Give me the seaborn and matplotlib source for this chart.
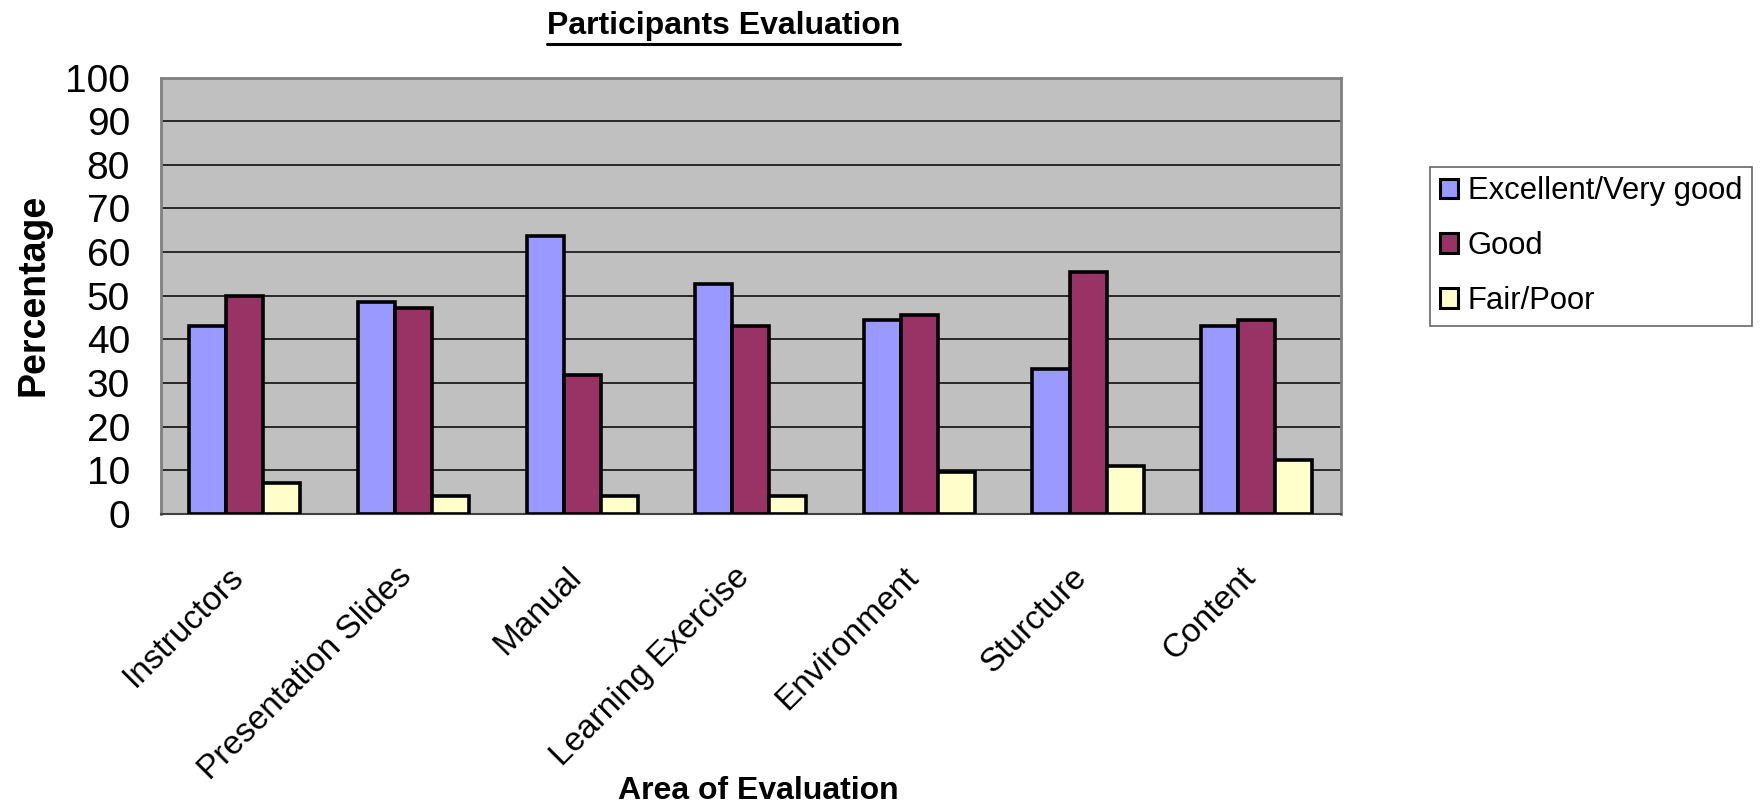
import matplotlib
matplotlib.use("Agg")
import matplotlib.pyplot as plt
from matplotlib.patches import Patch
from matplotlib.lines import Line2D
from matplotlib.transforms import ScaledTranslation
import seaborn as sns
import pandas as pd

categories = ["Instructors", "Presentation Slides", "Manual", "Learning Exercise",
              "Environment", "Sturcture", "Content"]
excellent = [43.0, 48.5, 63.8, 52.8, 44.4, 33.2, 43.0]
good = [50.0, 47.1, 31.9, 43.0, 45.6, 55.4, 44.4]
fair = [7.0, 4.2, 4.2, 4.2, 9.6, 10.9, 12.4]
series_names = ["Excellent/Very good", "Good", "Fair/Poor"]
series_colors = ["#9999FF", "#993366", "#FFFFCC"]
y_ticks = list(range(0, 101, 10))

sns.set_style("white")
plt.rcParams["font.family"] = ["Liberation Sans", "DejaVu Sans"]
plt.rcParams["text.color"] = "black"
plt.rcParams["xtick.color"] = "black"
plt.rcParams["ytick.color"] = "black"

rows = []
for cat, a, b, c in zip(categories, excellent, good, fair):
    rows.append((cat, series_names[0], a))
    rows.append((cat, series_names[1], b))
    rows.append((cat, series_names[2], c))
df = pd.DataFrame(rows, columns=["Area", "Rating", "Percentage"])

fig = plt.figure(figsize=(17.6, 8.1), dpi=100)
ax = fig.add_axes([0.0912, 0.3654, 0.6708, 0.5389])
ax.set_facecolor("#C0C0C0")

sns.barplot(data=df, x="Area", y="Percentage", hue="Rating", order=categories,
            hue_order=series_names, palette=series_colors, width=0.66,
            edgecolor="black", linewidth=2.6, saturation=1, legend=False, ax=ax,
            zorder=3)

ax.set_xlim(-0.5, len(categories) - 0.5)
ax.set_ylim(0, 100)
ax.set_yticks(y_ticks)
ax.set_yticklabels([str(t) for t in y_ticks], fontsize=28)
ax.yaxis.grid(True, color="black", linewidth=1.1, zorder=1)
ax.set_axisbelow(True)

# category labels at the centres, tick marks on the category boundaries
ax.set_xticks(range(len(categories)))
ax.set_xticklabels(categories, fontsize=24, rotation=45, ha="right",
                   rotation_mode="anchor")
ax.tick_params(axis="x", length=0, pad=34)
shift = ScaledTranslation(-17 / 100, 0, fig.dpi_scale_trans)
for lbl in ax.get_xticklabels():
    lbl.set_transform(lbl.get_transform() + shift)
ax.set_xticks([i - 0.5 for i in range(len(categories) + 1)], minor=True)
ax.tick_params(axis="x", which="minor", length=10, width=1.2, color="black",
               direction="out")
ax.tick_params(axis="y", length=10, width=1.2, color="black", direction="out",
               pad=12)

for side in ["top", "right", "left"]:
    ax.spines[side].set_color("#808080")
    ax.spines[side].set_linewidth(2)
ax.spines["bottom"].set_color("#404040")
ax.spines["bottom"].set_linewidth(1.5)

ax.set_xlabel("")
ax.set_ylabel("")
fig.text(0.431, 0.0235, "Area of Evaluation", fontsize=23, fontweight="bold",
         ha="center", va="center")
fig.text(0.019, 0.636, "Percentage", fontsize=27, fontweight="bold",
         ha="center", va="center", rotation=90)

title = fig.text(0.411, 0.968, "Participants Evaluation", fontsize=23,
                 fontweight="bold", ha="center", va="center")

handles = [Patch(facecolor=c, edgecolor="black", linewidth=2.2, label=n)
           for c, n in zip(series_colors, series_names)]
leg = fig.legend(handles=handles, loc="center left",
                 bbox_to_anchor=(0.8125, 0.696), fontsize=22.3, frameon=True,
                 fancybox=False, edgecolor="#404040", handlelength=0.6,
                 handleheight=0.6, handletextpad=0.3, borderpad=0.32,
                 labelspacing=0.8, borderaxespad=0)
leg.get_frame().set_linewidth(1.2)

# underline beneath the title
fig.canvas.draw()
bb = title.get_window_extent().transformed(fig.transFigure.inverted())
fig.add_artist(Line2D([bb.x0, bb.x1], [bb.y0 - 0.004, bb.y0 - 0.004],
                      transform=fig.transFigure, color="black", linewidth=2.2))

fig.savefig("out.png", dpi=100)
